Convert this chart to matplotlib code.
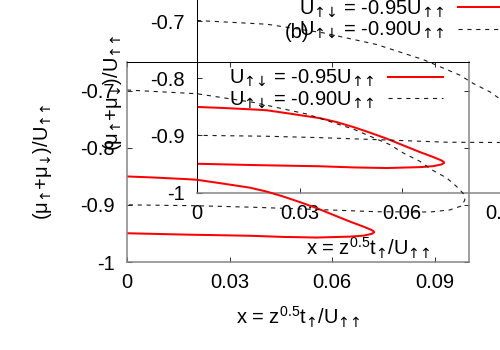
import matplotlib
matplotlib.use('Agg')
import matplotlib.pyplot as plt

plt.rcParams['font.family'] = ['Liberation Sans', 'DejaVu Sans']
plt.rcParams['mathtext.fontset'] = 'custom'
plt.rcParams['mathtext.rm'] = 'Liberation Sans'
plt.rcParams['mathtext.it'] = 'Liberation Sans'
plt.rcParams['mathtext.bf'] = 'Liberation Sans:bold'
plt.rcParams['mathtext.sf'] = 'DejaVu Sans'
plt.rcParams['lines.scale_dashes'] = False

FS = 14.5

# U_ud = -0.95 U_uu : C-shaped curve, upper branch then lower branch
red_x = [0.0, 0.0077, 0.0175, 0.0204, 0.0272, 0.036, 0.0408, 0.0457, 0.0506,
         0.0555, 0.0603, 0.0652, 0.0691, 0.0715, 0.0722,
         0.0722, 0.0715, 0.0691, 0.0652, 0.0555, 0.0457, 0.036, 0.0175, 0.0]
red_y = [-0.8503, -0.8521, -0.8550, -0.8561, -0.8620, -0.8700, -0.8767, -0.8854, -0.8953,
         -0.9058, -0.9175, -0.9293, -0.9380, -0.9439, -0.9468,
         -0.9485, -0.9509, -0.9539, -0.9556, -0.9572, -0.9561, -0.9541, -0.9521, -0.9497]

# U_ud = -0.90 U_uu
dash_x = [0.0, 0.0204, 0.037, 0.0525, 0.0662, 0.0711, 0.0769, 0.0808, 0.0857,
          0.0891, 0.0935, 0.0964, 0.0984, 0.0988, 0.0979, 0.0944, 0.0886,
          0.073, 0.055, 0.036, 0.020, 0.0]
dash_y = [-0.699, -0.7055, -0.7207, -0.741, -0.7675, -0.780, -0.7947, -0.8093, -0.824,
          -0.8386, -0.853, -0.868, -0.8807, -0.891, -0.9018, -0.9088, -0.9125,
          -0.912, -0.908, -0.904, -0.9015, -0.900]

xticks = [0, 0.03, 0.06, 0.09]
xtick_labels = ['0', '0.03', '0.06', '0.09']
yticks = [-1, -0.9, -0.8, -0.7]
ytick_labels = ['-1', '-0.9', '-0.8', '-0.7']
series_labels = [r'U$_{\mathsf{↑↓}}$ = -0.95U$_{\mathsf{↑↑}}$',
                 r'U$_{\mathsf{↑↓}}$ = -0.90U$_{\mathsf{↑↑}}$']
xlabel = r'x = z$^{\mathrm{0.5}}$t$_{\mathsf{↑}}$/U$_{\mathsf{↑↑}}$'
ylabel = r'(μ$_{\mathsf{↑}}$+μ$_{\mathsf{↓}}$)/U$_{\mathsf{↑↑}}$'

fig = plt.figure(figsize=(5, 3.5), dpi=100)
fig.patch.set_facecolor('white')

AW, AH = 342 / 500, 200 / 350


def draw(ax, gray_sides):
    ax.set_facecolor('none')
    ax.plot(red_x, red_y, color='#ff0000', lw=1.45, label=series_labels[0])
    ax.plot(dash_x, dash_y, color='#1a1a1a', lw=0.8, linestyle=(0, (3.0, 3.4)),
            label=series_labels[1])
    ax.set_xlim(0, 0.1)
    ax.set_ylim(-1, -0.65)
    ax.set_xticks(xticks)
    ax.set_xticklabels(xtick_labels)
    ax.set_yticks(yticks)
    ax.set_yticklabels(ytick_labels)
    ax.tick_params(direction='in', length=3.6, width=0.75, top=True, right=True,
                   labelsize=FS, color='#333333')
    ax.tick_params(axis='y', pad=9.0)
    ax.tick_params(axis='x', pad=8.0)
    for side, sp in ax.spines.items():
        if side in gray_sides:
            sp.set_color('#858585')
            sp.set_linewidth(1.1)
        else:
            sp.set_color('black')
            sp.set_linewidth(0.75)
    ax.set_xlabel(xlabel, fontsize=FS)
    ax.xaxis.set_label_coords(0.5, -0.215)
    ax.set_ylabel(ylabel, fontsize=FS)
    ax.yaxis.label.set_verticalalignment('center')
    ax.yaxis.set_label_coords(-0.2485, 0.5)
    ax.legend(loc='upper right', bbox_to_anchor=(0.924, 0.97), borderpad=0,
              borderaxespad=0, markerfirst=False, frameon=False, fontsize=FS,
              handlelength=2.75, handletextpad=0.65, labelspacing=0.0)


# back panel (offset up-right, partly outside the canvas)
axB = fig.add_axes([197 / 500, 1 - 192.5 / 350, AW, AH])
draw(axB, gray_sides=('bottom',))
axB.text(0.292, 0.7975, '(b)', transform=axB.transAxes, ha='center', va='center',
         fontsize=FS)

# front panel
axA = fig.add_axes([127 / 500, 1 - 262 / 350, AW, AH])
draw(axA, gray_sides=('left', 'bottom', 'right'))

fig.savefig('out.png', dpi=100)
